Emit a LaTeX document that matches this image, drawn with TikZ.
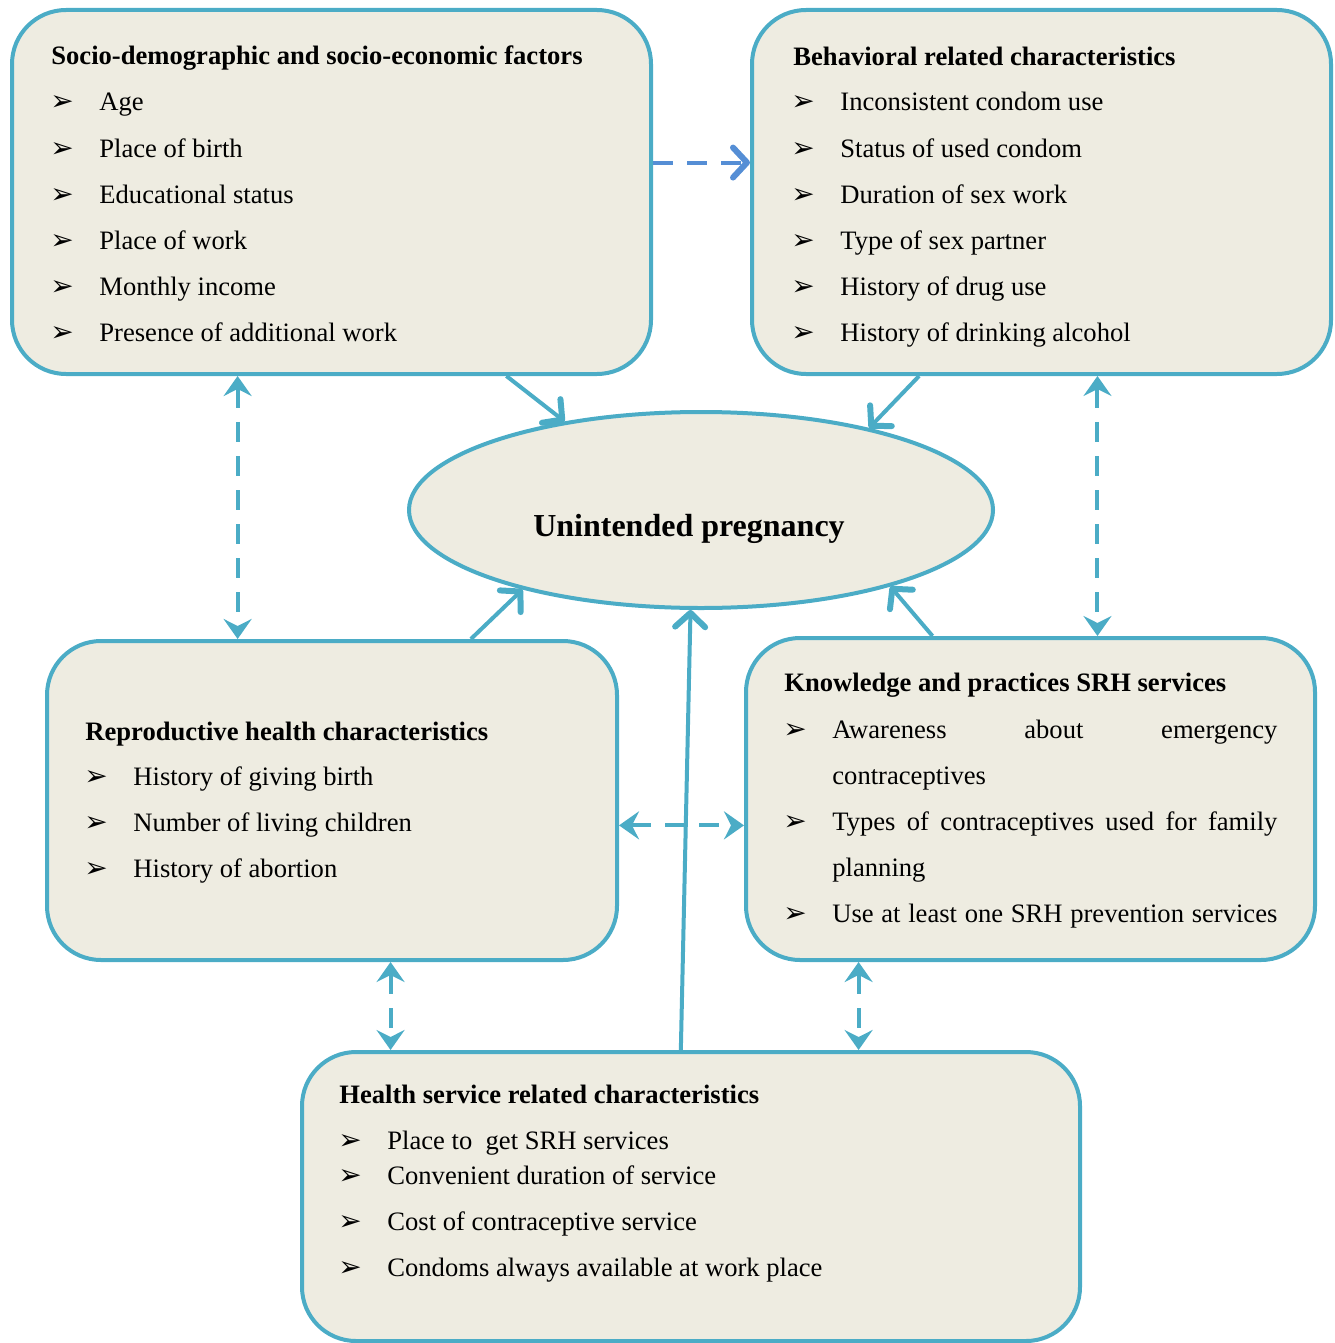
\documentclass[tikz,border=0pt]{standalone}
\usepackage{fontspec}
\setmainfont{Liberation Serif}
\newfontfamily\symfont{DejaVu Sans}
\usetikzlibrary{arrows.meta,calc,shapes.geometric}

\definecolor{boxline}{HTML}{4BACC6}
\definecolor{boxfill}{HTML}{EEECE1}
\definecolor{linkblue}{HTML}{558ED5}

\tikzset{
  factorbox/.style={draw=boxline, fill=boxfill, line width=2pt, rounded corners=27pt, inner sep=0pt},
  heading/.style={anchor=base west, inner sep=0pt, font=\fontsize{13.3}{16}\selectfont\bfseries},
  item/.style={anchor=base west, inner sep=0pt, font=\fontsize{13.3}{16}\selectfont},
  bul/.style={anchor=base, inner sep=0pt, font=\symfont\fontsize{14}{16}\selectfont},
  solidarrow/.style={draw=boxline, line width=2pt, -{Straight Barb[length=7pt,width=15pt,round,line width=3pt]}},
  dasharrow/.style={draw=boxline, line width=2pt, dash pattern=on 10pt off 7pt,
    {Stealth[length=10pt,width=14pt,inset=3.5pt]}-{Stealth[length=10pt,width=14pt,inset=3.5pt]}},
  bluearrow/.style={draw=linkblue, line width=2pt, dash pattern=on 10pt off 7pt,
    -{Straight Barb[length=7pt,width=15pt,round,line width=3pt]}}
}

\begin{document}
\begin{tikzpicture}[x=0.5pt,y=-0.5pt]
  \useasboundingbox (0,0) rectangle (1334,1343);

  % boxes
  \node[factorbox, minimum width=319.5pt, minimum height=182pt] (sd) at (331.5,192) {};
  \node[factorbox, minimum width=289.5pt, minimum height=182pt] (beh) at (1041.5,192) {};
  \node[factorbox, minimum width=285pt, minimum height=159.5pt] (rep) at (332,800.5) {};
  \node[factorbox, minimum width=284.5pt, minimum height=161pt] (kp) at (1030.5,799) {};
  \node[factorbox, minimum width=389pt, minimum height=144.5pt] (hs) at (691,1196.5) {};
  \node[draw=boxline, fill=boxfill, line width=2pt, ellipse, minimum width=292pt, minimum height=98pt, inner sep=0pt] (up) at (701,510) {};
  \node[anchor=center, inner sep=0pt, font=\fontsize{16}{19}\selectfont\bfseries] (uptxt) at (689,529) {Unintended pregnancy};

  % socio-demographic factors
  \node[heading] (sdh) at (51,65) {Socio-demographic and socio-economic factors};
  \foreach \txt [count=\i] in {Age, Place of birth, Educational status, Place of work,
      Monthly income, Presence of additional work} {
    \node[bul] (sdb\i) at (62,{65+46*\i}) {➢};
    \node[item] (sd\i) at (99,{65+46*\i}) {\txt};
  }

  % behavioral characteristics
  \node[heading] (behh) at (793,66) {Behavioral related characteristics};
  \foreach \txt [count=\i] in {Inconsistent condom use, Status of used condom, Duration of sex work,
      Type of sex partner, History of drug use, History of drinking alcohol} {
    \node[bul] (behb\i) at (803,{65+46*\i}) {➢};
    \node[item] (beh\i) at (840,{65+46*\i}) {\txt};
  }

  % reproductive health
  \node[heading] (reph) at (85,740) {Reproductive health characteristics};
  \foreach \txt [count=\i] in {History of giving birth, Number of living children, History of abortion} {
    \node[bul] (repb\i) at (96,{739+46*\i}) {➢};
    \node[item] (rep\i) at (133,{739+46*\i}) {\txt};
  }

  % knowledge and practices
  \node[heading] (kph) at (784,691) {Knowledge and practices SRH services};
  \node[bul] (kpb1) at (795,738) {➢};
  \node[item] (kp1) at (832,738) {\makebox[222.5pt][s]{Awareness about emergency}};
  \node[item] (kp2) at (832,784) {contraceptives};
  \node[bul] (kpb3) at (795,830) {➢};
  \node[item] (kp3) at (832,830) {\makebox[222.5pt][s]{Types of contraceptives used for family}};
  \node[item] (kp4) at (832,876) {planning};
  \node[bul] (kpb5) at (795,922) {➢};
  \node[item] (kp5) at (832,922) {\makebox[222.5pt][s]{Use at least one SRH prevention services}};

  % health service
  \node[heading] (hsh) at (339,1103) {Health service related characteristics};
  \foreach \txt/\yy [count=\i] in {Place to\ \ get SRH services/1149, Convenient duration of service/1184,
      Cost of contraceptive service/1230, Condoms always available at work place/1276} {
    \node[bul] (hsb\i) at (350,\yy) {➢};
    \node[item] (hs\i) at (387,\yy) {\txt};
  }

  % arrows to the outcome
  \draw[solidarrow] ($(sd.south west)!.772!(sd.south east)$) -- (up.147);
  \draw[solidarrow] ($(beh.south west)!.29!(beh.south east)$) -- (up.26);
  \draw[solidarrow] ($(rep.north west)!.742!(rep.north east)$) -- (up.204);
  \draw[solidarrow] ($(kp.north west)!.329!(kp.north east)$) -- (up.338);
  \draw[solidarrow] ($(hs.north west)!.487!(hs.north east)$) -- (up.264);

  % links between factors
  \draw[bluearrow] ($(sd.north east)!.42!(sd.south east)$) coordinate (l1) -- (l1 -| beh.west);
  \draw[dasharrow] ($(sd.south west)!.354!(sd.south east)$) coordinate (l2) -- (l2 |- rep.north);
  \draw[dasharrow] ($(beh.south west)!.596!(beh.south east)$) coordinate (l3) -- (l3 |- kp.north);
  \draw[dasharrow] ($(rep.north east)!.577!(rep.south east)$) coordinate (l4) -- (l4 -| kp.west);
  \draw[dasharrow] ($(rep.south west)!.602!(rep.south east)$) coordinate (l5) -- (l5 |- hs.north);
  \draw[dasharrow] ($(kp.south west)!.2!(kp.south east)$) coordinate (l6) -- (l6 |- hs.north);
\end{tikzpicture}
\end{document}
